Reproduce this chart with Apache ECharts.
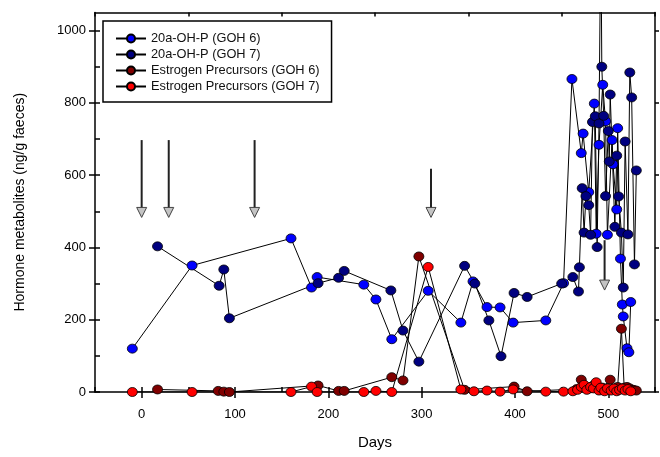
<!DOCTYPE html>
<html>
<head>
<meta charset="utf-8">
<script src="https://cdn.jsdelivr.net/npm/echarts@6/dist/echarts.min.js"></script>
<style>
  html, body { margin: 0; padding: 0; background: #fff; }
  #chart { width: 660px; height: 457px; }
</style>
</head>
<body>
<div id="chart"></div>
<script>
// 20a-OH-P, GOH 6 (blue)
const oh6Days = [-10, 54, 160, 182, 188, 238, 251, 268, 307, 342, 355, 370, 384, 398, 433, 452, 461, 471, 473, 479, 485, 487, 490, 494, 497, 499, 504, 505, 509, 510, 513, 515, 516, 520, 522, 524]
const oh6Vals = [120, 350, 425, 289, 318, 297, 256, 146, 280, 192, 306, 235, 234, 192, 198, 301, 866, 661, 715, 553, 798, 438, 684, 850, 749, 435, 697, 630, 505, 730, 369, 242, 209, 121, 110, 249]

// 20a-OH-P, GOH 7 (navy)
const oh7Days = [17, 83, 88, 94, 189, 211, 217, 267, 280, 297, 346, 357, 372, 385, 399, 413, 450, 462, 468, 469, 472, 474, 476, 479, 481, 483, 486, 488, 490, 492, 493, 495, 497, 500, 501, 502, 507, 509, 511, 514, 516, 518, 521, 523, 525, 528, 530]
const oh7Vals = [403, 294, 339, 204, 301, 316, 335, 281, 170, 84, 349, 300, 198, 99, 274, 263, 300, 318, 278, 345, 564, 441, 542, 517, 435, 747, 763, 401, 743, 1300, 900, 764, 542, 722, 638, 823, 457, 654, 541, 441, 289, 693, 436, 884, 815, 353, 613]

// Estrogen precursors, GOH 6 (dark red)
const es6Days = [17, 82, 88, 94, 189, 211, 217, 268, 280, 297, 346, 399, 413, 466, 471, 475, 480, 484, 490, 494, 502, 506, 510, 514, 517, 520, 523, 527, 530]
const es6Vals = [7, 3, 1, 0, 18, 3, 3, 41, 32, 375, 6, 15, 2, 8, 34, 14, 10, 18, 6, 12, 34, 8, 14, 175, 12, 14, 10, 6, 4]

// Estrogen precursors, GOH 7 (red)
const es7Days = [-10, 54, 160, 182, 188, 238, 251, 268, 307, 342, 356, 370, 384, 398, 433, 452, 462, 467, 471, 474, 477, 481, 484, 487, 490, 492, 496, 499, 503, 506, 509, 512, 515, 518, 521, 524]
const es7Vals = [0, 0, 0, 15, 0, 0, 3, 0, 346, 7, 2, 4, 1, 7, 1, 1, 2, 6, 14, 20, 6, 14, 10, 27, 4, 12, 2, 10, 4, 10, 2, 6, 10, 4, 8, 2]

// event arrows: day, shaft top, arrow tip (ng/g)
const arrowDays = [0, 29, 121, 310, 496]
const arrowTop = [697, 697, 697, 618, 420]
const arrowTip = [483, 483, 483, 483, 282]

const xMajor = [0, 100, 200, 300, 400, 500]
const xAll = [-50, 0, 50, 100, 150, 200, 250, 300, 350, 400, 450, 500, 550]
const xTop = [-50, 50, 150, 250, 350, 450, 550]
const yMajor = [0, 200, 400, 600, 800, 1000]
const yAll = [0, 100, 200, 300, 400, 500, 600, 700, 800, 900, 1000]

const FONT = 'Liberation Sans, Arial, sans-serif'

const zip = (xs, ys) => xs.map((x, i) => [x, ys[i]])

const lineSeries = (name, days, vals, color) => ({
    name,
    type: 'line',
    data: zip(days, vals),
    symbol: 'circle',
    symbolSize: [10, 9],
    clip: true,
    lineStyle: { color: '#000', width: 1 },
    itemStyle: { color, borderColor: '#000', borderWidth: 0.8 },
    emphasis: { disabled: true }
})

const black = { color: '#000', width: 1.5 }

const chart = echarts.init(document.getElementById('chart'))
const option = {
    animation: false,
    backgroundColor: '#fff',
    textStyle: { fontFamily: FONT },
    grid: { left: 95, right: 5, top: 12.5, bottom: 65, containLabel: false },
    legend: {
        orient: 'vertical',
        left: 103,
        top: 21,
        padding: [11, 12, 9, 12],
        itemGap: 3,
        itemWidth: 30,
        itemHeight: 10,
        borderColor: '#000',
        borderWidth: 1.5,
        textStyle: { fontFamily: FONT, fontSize: 12.8, color: '#111' },
        data: ['20a-OH-P (GOH 6)', '20a-OH-P (GOH 7)', 'Estrogen Precursors (GOH 6)', 'Estrogen Precursors (GOH 7)']
    },
    xAxis: [
        {
            type: 'value', min: -50, max: 550, position: 'bottom',
            name: 'Days', nameLocation: 'middle', nameGap: 43,
            nameTextStyle: { fontFamily: FONT, fontSize: 15, color: '#000' },
            axisLine: { onZero: false, lineStyle: black },
            axisTick: { customValues: xMajor, length: 6, lineStyle: black },
            axisLabel: { customValues: xMajor, fontFamily: FONT, fontSize: 13, color: '#000', margin: 16 },
            splitLine: { show: false }
        },
        {
            type: 'value', min: -50, max: 550, position: 'bottom',
            axisLine: { show: false, onZero: false },
            axisTick: { customValues: xAll, inside: true, length: 5, lineStyle: black },
            axisLabel: { show: false },
            splitLine: { show: false }
        },
        {
            type: 'value', min: -50, max: 550, position: 'top',
            axisLine: { onZero: false, lineStyle: black },
            axisTick: { customValues: xTop, inside: true, length: 4, lineStyle: black },
            axisLabel: { show: false },
            splitLine: { show: false }
        }
    ],
    yAxis: [
        {
            type: 'value', min: 0, max: 1050, position: 'left',
            name: 'Hormone metabolites (ng/g faeces)', nameLocation: 'middle', nameGap: 68,
            nameTextStyle: { fontFamily: FONT, fontSize: 14, color: '#000' },
            axisLine: { onZero: false, lineStyle: black },
            axisTick: { customValues: yMajor, length: 6, lineStyle: black },
            axisLabel: {
                customValues: yMajor, formatter: v => String(v),
                fontFamily: FONT, fontSize: 13, color: '#000', margin: 9
            },
            splitLine: { show: false }
        },
        {
            type: 'value', min: 0, max: 1050, position: 'left',
            axisLine: { show: false, onZero: false },
            axisTick: { customValues: yAll, inside: true, length: 5, lineStyle: black },
            axisLabel: { show: false },
            splitLine: { show: false }
        },
        {
            type: 'value', min: 0, max: 1050, position: 'right',
            axisLine: { onZero: false, lineStyle: black },
            axisTick: { customValues: yMajor, length: 4, lineStyle: black },
            axisLabel: { show: false },
            splitLine: { show: false }
        }
    ],
    series: [
        {
            name: 'arrows',
            type: 'custom',
            silent: true,
            data: arrowDays.map((d, i) => [d, arrowTop[i], arrowTip[i]]),
            encode: { x: 0, y: [1, 2] },
            renderItem: (params, api) => {
                const p1 = api.coord([api.value(0), api.value(1)])
                const p2 = api.coord([api.value(0), api.value(2)])
                return {
                    type: 'group',
                    children: [
                        {
                            type: 'line',
                            shape: { x1: p1[0], y1: p1[1], x2: p2[0], y2: p2[1] - 9 },
                            style: { stroke: '#222', lineWidth: 2 }
                        },
                        {
                            type: 'polygon',
                            shape: { points: [[p2[0] - 5, p2[1] - 10], [p2[0] + 5, p2[1] - 10], [p2[0], p2[1]]] },
                            style: { fill: '#c4c4c4', stroke: '#444', lineWidth: 1 }
                        }
                    ]
                }
            }
        },
        lineSeries('20a-OH-P (GOH 6)', oh6Days, oh6Vals, '#0000ff'),
        lineSeries('20a-OH-P (GOH 7)', oh7Days, oh7Vals, '#000080'),
        lineSeries('Estrogen Precursors (GOH 6)', es6Days, es6Vals, '#800000'),
        lineSeries('Estrogen Precursors (GOH 7)', es7Days, es7Vals, '#ff0000')
    ]
}
chart.setOption(option)
</script>
</body>
</html>
